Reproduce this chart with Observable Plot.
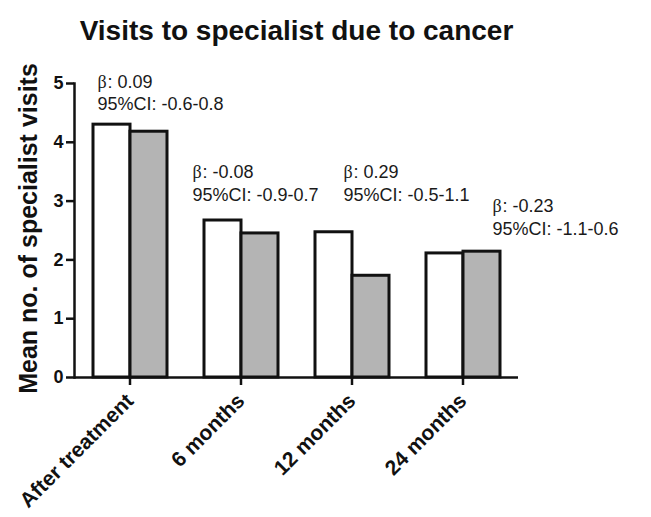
<!DOCTYPE html>
<html><head><meta charset="utf-8">
<script src="https://cdn.jsdelivr.net/npm/d3@7"></script>
<script src="https://cdn.jsdelivr.net/npm/@observablehq/plot@0.6"></script>
<style>body{margin:0;background:#fff}</style>
</head><body><div id="chart"></div>
<script>
const title = "Visits to specialist due to cancer";
const yLabel = "Mean no. of specialist visits";
const periods = ["After treatment", "6 months", "12 months", "24 months"];
const series = ["A", "B"];
const valuesA = [4.30, 2.67, 2.47, 2.11];
const valuesB = [4.18, 2.45, 1.73, 2.14];
const betas = ["0.09", "-0.08", "0.29", "-0.23"];
const cis = ["-0.6-0.8", "-0.9-0.7", "-0.5-1.1", "-1.1-0.6"];
const labelY = [5.03, 3.49, 3.49, 2.91];
const yTicks = [0, 1, 2, 3, 4, 5];

// layout (pixel offsets of the annotations within each group)
const labelDx = [23, 7, 47, 85];
const FONT = "'Liberation Sans', Arial, sans-serif";

const data = periods.flatMap((p, i) => [
  {period: p, group: series[0], value: valuesA[i]},
  {period: p, group: series[1], value: valuesB[i]}
]);
const anno = periods.map((p, i) => ({period: p, beta: betas[i], ci: cis[i], y: labelY[i]}));

const annoMarks = anno.flatMap((a, i) => [
  Plot.text([a], {fx: "period", y: "y", text: () => "β", frameAnchor: "left", textAnchor: "start",
    dx: labelDx[i], fontSize: 18, fontFamily: "'Liberation Serif', 'Times New Roman', serif", fill: "#1a1a1a"}),
  Plot.text([a], {fx: "period", y: "y", text: d => ": " + d.beta, frameAnchor: "left", textAnchor: "start",
    dx: labelDx[i] + 10, fontSize: 18, fill: "#1a1a1a"}),
  Plot.text([a], {fx: "period", y: "y", text: d => "95%CI: " + d.ci, frameAnchor: "left", textAnchor: "start",
    dx: labelDx[i], dy: 22.5, fontSize: 18, fill: "#1a1a1a"})
]);

const chart = Plot.plot({
  width: 651, height: 517,
  marginLeft: 73, marginRight: 133, marginTop: 83, marginBottom: 140,
  style: {fontFamily: FONT, background: "#fff", color: "#111", overflow: "visible"},
  fx: {domain: periods, paddingInner: 0, paddingOuter: 0, label: null},
  x: {domain: series, paddingInner: 0, paddingOuter: 0.47, axis: null},
  y: {domain: [0, 5]},
  color: {domain: series, range: ["#ffffff", "#b4b4b4"]},
  marks: [
    Plot.barY(data, {fx: "period", x: "group", y: "value", fill: "group", stroke: "#111", strokeWidth: 3}),
    Plot.ruleY([0], {strokeWidth: 2.5, stroke: "#111"}),
    Plot.frame({anchor: "left", facet: "super", stroke: "#111", strokeWidth: 2.5}),
    Plot.axisY({ticks: yTicks, tickSize: 8, tickPadding: 3, stroke: "#111", strokeWidth: 2.5, fontSize: 18, fontWeight: "bold", label: null, tickFormat: d3.format("d")}),
    Plot.axisFx({anchor: "bottom", tickSize: 8, tickRotate: -45, tickPadding: 12, fontSize: 21, fontWeight: "bold", stroke: "#111", strokeWidth: 2.5, label: null}),
    ...annoMarks,
    Plot.text([title], {facet: "super", frameAnchor: "top", dy: -52, fontSize: 28, fontWeight: "bold", lineAnchor: "middle"}),
    Plot.text([yLabel], {facet: "super", frameAnchor: "left", rotate: -90, dx: -46, dy: -2, fontSize: 25, fontWeight: "bold", textAnchor: "middle", lineAnchor: "middle"})
  ]
});
document.getElementById("chart").appendChild(chart);
</script>
</body></html>
